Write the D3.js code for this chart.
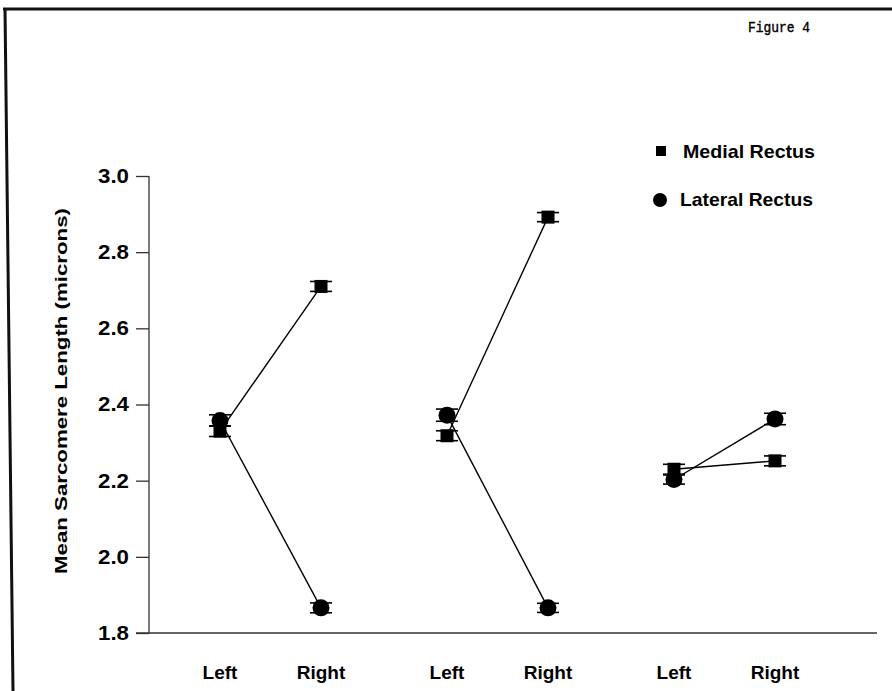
<!DOCTYPE html>
<html>
<head>
<meta charset="utf-8">
<script src="https://cdn.jsdelivr.net/npm/d3@7"></script>
<style>
  body { margin: 0; background: #fff; }
  svg { display: block; }
  text { font-family: "Liberation Sans", Arial, Helvetica, sans-serif; fill: #000; }
</style>
</head>
<body>
<div id="chart"></div>
<script>
// groups (no labels in the figure) and the side within each group
const groups = ['g1', 'g2', 'g3'];
const sides = ['Left', 'Right'];

// mean sarcomere length, one [Left, Right] pair per group
const medialMean = [[2.330, 2.710], [2.318, 2.892], [2.230, 2.252]];
const lateralMean = [[2.358, 1.866], [2.372, 1.866], [2.203, 2.362]];
// error bar half-lengths
const medialErr = [[0.014, 0.013], [0.013, 0.012], [0.013, 0.013]];
const lateralErr = [[0.015, 0.013], [0.016, 0.012], [0.012, 0.015]];

const yTicks = [1.8, 2.0, 2.2, 2.4, 2.6, 2.8, 3.0];

const width = 892, height = 691;

const svg = d3.select('#chart').append('svg')
  .attr('width', width)
  .attr('height', height);

// scanned page frame (top and left edge)
svg.append('line')
  .attr('x1', 3).attr('y1', 9).attr('x2', 892).attr('y2', 9)
  .attr('stroke', '#111').attr('stroke-width', 3);
svg.append('line')
  .attr('x1', 5).attr('y1', 8).attr('x2', 13).attr('y2', 691)
  .attr('stroke', '#111').attr('stroke-width', 3);

svg.append('text')
  .attr('x', 748).attr('y', 32)
  .attr('textLength', 62)
  .attr('lengthAdjust', 'spacingAndGlyphs')
  .style('font-family', '"Liberation Mono", "DejaVu Sans Mono", monospace')
  .style('font-size', '14px')
  .style('stroke', '#000')
  .style('stroke-width', 0.4)
  .text('Figure 4');

// scales
const y = d3.scaleLinear().domain([1.8, 3.0]).range([633, 176]);
const xGroup = d3.scaleBand().domain(groups).range([157, 838]);
const xSide = d3.scalePoint().domain(sides).range([-50.5, 50.5]);
const xPos = (gi, si) => xGroup(groups[gi]) + xGroup.bandwidth() / 2 + xSide(sides[si]);

// y axis
const yAxis = d3.axisLeft(y)
  .tickValues(yTicks)
  .tickFormat(d3.format('.1f'))
  .tickSize(13)
  .tickPadding(7);

const gy = svg.append('g')
  .attr('transform', 'translate(149,0)')
  .call(yAxis);
gy.select('.domain').attr('d', `M0,${y(3.0)}V${y(1.8)}`).attr('stroke', '#333').attr('stroke-width', 1.3);
gy.selectAll('.tick line').attr('stroke', '#333').attr('stroke-width', 1.3);
gy.selectAll('.tick text')
  .attr('textLength', 31)
  .attr('lengthAdjust', 'spacingAndGlyphs')
  .style('font-size', '20px')
  .style('font-weight', 'bold')
  .style('font-family', '"Liberation Sans", Arial, sans-serif');

// x axis baseline
svg.append('line')
  .attr('x1', 136).attr('x2', 877)
  .attr('y1', y(1.8)).attr('y2', y(1.8))
  .attr('stroke', '#333').attr('stroke-width', 1.3);

// x category labels
groups.forEach((g, gi) => {
  sides.forEach((s, si) => {
    svg.append('text')
      .attr('x', xPos(gi, si))
      .attr('y', 679)
      .attr('text-anchor', 'middle')
      .style('font-size', '19px')
      .style('font-weight', 'bold')
      .text(s);
  });
});

// y axis title
svg.append('text')
  .attr('transform', `translate(67,${(207 + 575) / 2}) rotate(-90)`)
  .attr('text-anchor', 'middle')
  .style('font-size', '16px')
  .style('font-weight', 'bold')
  .attr('textLength', 366)
  .attr('lengthAdjust', 'spacingAndGlyphs')
  .text('Mean Sarcomere Length (microns)');

// series
const series = [
  { name: 'Medial Rectus', mean: medialMean, err: medialErr, shape: 'square' },
  { name: 'Lateral Rectus', mean: lateralMean, err: lateralErr, shape: 'circle' }
];

const plot = svg.append('g');

series.forEach(s => {
  s.mean.forEach((pair, gi) => {
    // connecting line Left -> Right
    plot.append('line')
      .attr('x1', xPos(gi, 0)).attr('y1', y(pair[0]))
      .attr('x2', xPos(gi, 1)).attr('y2', y(pair[1]))
      .attr('stroke', '#000').attr('stroke-width', 1.4);

    pair.forEach((v, si) => {
      const cx = xPos(gi, si);
      const e = s.err[gi][si];
      // error bars
      plot.append('line')
        .attr('x1', cx).attr('x2', cx)
        .attr('y1', y(v + e)).attr('y2', y(v - e))
        .attr('stroke', '#000').attr('stroke-width', 1.4);
      [v + e, v - e].forEach(ev => {
        plot.append('line')
          .attr('x1', cx - 11).attr('x2', cx + 11)
          .attr('y1', y(ev)).attr('y2', y(ev))
          .attr('stroke', '#000').attr('stroke-width', 1.6);
      });
      if (s.shape === 'square') {
        plot.append('rect')
          .attr('x', cx - 6.5).attr('y', y(v) - 6.5)
          .attr('width', 13).attr('height', 13)
          .attr('fill', '#000');
      } else {
        plot.append('circle')
          .attr('cx', cx).attr('cy', y(v))
          .attr('r', 8.5)
          .attr('fill', '#000');
      }
    });
  });
});

// legend
const legend = svg.append('g');
legend.append('rect')
  .attr('x', 656).attr('y', 146)
  .attr('width', 10).attr('height', 10)
  .attr('fill', '#000');
legend.append('text')
  .attr('x', 683).attr('y', 158)
  .attr('textLength', 132)
  .attr('lengthAdjust', 'spacingAndGlyphs')
  .style('font-size', '19px')
  .style('font-weight', 'bold')
  .text('Medial Rectus');
legend.append('circle')
  .attr('cx', 660).attr('cy', 200)
  .attr('r', 7)
  .attr('fill', '#000');
legend.append('text')
  .attr('x', 680).attr('y', 206)
  .attr('textLength', 133)
  .attr('lengthAdjust', 'spacingAndGlyphs')
  .style('font-size', '19px')
  .style('font-weight', 'bold')
  .text('Lateral Rectus');
</script>
</body>
</html>
